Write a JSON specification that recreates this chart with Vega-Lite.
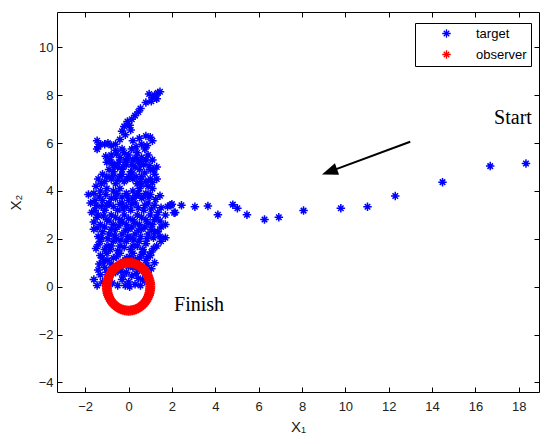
{
"$schema": "https://vega.github.io/schema/vega-lite/v6.json",
"width": 482, "height": 380,
"autosize": {"type": "none"},
"padding": {"left": 57, "top": 12, "right": 11, "bottom": 52},
"background": "white",
"config": {"view": {"stroke": "black", "strokeWidth": 1}},
"datasets": {
"tgt": [
{"x":18.33,"y":5.15},{"x":16.68,"y":5.04},{"x":14.48,"y":4.37},{"x":12.3,"y":3.79},{"x":11.02,"y":3.34},{"x":9.79,"y":3.28},{"x":8.07,"y":3.18},{"x":6.93,"y":2.9},{"x":6.27,"y":2.81},{"x":5.46,"y":3.01},{"x":5.02,"y":3.28},{"x":4.81,"y":3.43},{"x":4.12,"y":3.01},{"x":3.66,"y":3.37},{"x":3.06,"y":3.34},{"x":2.44,"y":3.4},{"x":2.1,"y":3.09},{"x":1.95,"y":3.4},
{"x":1.35,"y":8.1},{"x":1.45,"y":8.15},{"x":1.2,"y":8.0},{"x":0.95,"y":8.05},{"x":1.3,"y":7.85},{"x":1.05,"y":7.75},{"x":0.8,"y":7.7},{"x":1.1,"y":7.9},
{"x":0.55,"y":7.45},{"x":0.45,"y":7.3},{"x":0.3,"y":7.15},{"x":0.15,"y":7.0},{"x":-0.05,"y":6.9},{"x":0.05,"y":6.75},{"x":-0.2,"y":6.7},{"x":-0.3,"y":6.5},{"x":-0.15,"y":6.35},{"x":0.1,"y":6.55},
{"x":-1.45,"y":6.1},{"x":-1.4,"y":5.85},{"x":-1.3,"y":5.95},{"x":-1.1,"y":5.95},{"x":-0.95,"y":6.0},{"x":-0.8,"y":5.9},{"x":-1.45,"y":5.75},{"x":-0.6,"y":5.95},
{"x":1.0,"y":6.25},{"x":1.1,"y":6.1},{"x":0.85,"y":5.9},{"x":0.6,"y":5.95},{"x":0.35,"y":5.85},{"x":0.8,"y":6.3},{"x":0.2,"y":6.1},{"x":-0.4,"y":6.15},{"x":0.5,"y":6.2},
{"x":-1.0,"y":5.2},{"x":-0.8,"y":5.5},{"x":-0.6,"y":5.7},{"x":-0.4,"y":5.4},{"x":-0.2,"y":5.6},{"x":0.0,"y":5.5},{"x":0.2,"y":5.3},{"x":0.4,"y":5.6},{"x":0.6,"y":5.4},{"x":0.9,"y":5.5},{"x":1.1,"y":5.3},{"x":1.3,"y":5.0},{"x":1.0,"y":4.9},{"x":0.7,"y":5.1},{"x":0.5,"y":4.9},{"x":0.3,"y":5.0},{"x":0.1,"y":4.8},{"x":-0.1,"y":5.1},{"x":-0.3,"y":4.9},{"x":-0.5,"y":5.0},{"x":-0.7,"y":4.8},{"x":-0.9,"y":4.9},{"x":-1.2,"y":4.7},{"x":-1.4,"y":4.5},{"x":-1.1,"y":4.4},{"x":-0.8,"y":4.5},{"x":-0.6,"y":4.3},{"x":-0.4,"y":4.6},{"x":-0.2,"y":4.4},{"x":0.0,"y":4.6},{"x":0.2,"y":4.5},{"x":0.4,"y":4.3},{"x":0.6,"y":4.6},{"x":0.8,"y":4.4},{"x":1.0,"y":4.5},{"x":1.2,"y":4.7},{"x":0.9,"y":4.2},{"x":-1.5,"y":4.2},{"x":-0.3,"y":5.75},{"x":0.15,"y":5.75},{"x":-0.55,"y":5.55},{"x":0.75,"y":5.75},{"x":-0.15,"y":5.25},{"x":0.45,"y":5.25},{"x":-0.75,"y":5.15},
{"x":-1.85,"y":3.85},{"x":-1.6,"y":3.9},{"x":-1.3,"y":4.0},{"x":-1.0,"y":4.1},{"x":-0.7,"y":4.0},{"x":-0.4,"y":4.1},{"x":-0.1,"y":3.9},{"x":0.2,"y":4.0},{"x":0.5,"y":4.1},{"x":0.8,"y":3.9},{"x":1.1,"y":4.1},{"x":1.45,"y":3.8},{"x":0.6,"y":4.25},{"x":-1.7,"y":3.1},{"x":-1.5,"y":3.4},{"x":-1.2,"y":3.6},{"x":-0.9,"y":3.5},{"x":-0.6,"y":3.7},{"x":-0.3,"y":3.5},{"x":0.0,"y":3.6},{"x":0.3,"y":3.5},{"x":0.6,"y":3.7},{"x":0.9,"y":3.5},{"x":1.2,"y":3.4},{"x":1.5,"y":3.3},{"x":1.7,"y":3.0},{"x":2.0,"y":3.45},{"x":2.15,"y":3.1},{"x":1.8,"y":3.35},{"x":-1.4,"y":3.0},{"x":-1.1,"y":3.2},{"x":-0.8,"y":3.0},{"x":-0.5,"y":3.2},{"x":-0.2,"y":3.0},{"x":0.1,"y":3.2},{"x":0.4,"y":3.0},{"x":0.7,"y":3.2},{"x":1.0,"y":3.0},{"x":1.3,"y":2.9},{"x":-1.6,"y":2.7},{"x":-1.3,"y":2.6},{"x":-1.0,"y":2.8},{"x":-0.7,"y":2.6},{"x":-0.4,"y":2.8},{"x":-0.1,"y":2.6},{"x":0.2,"y":2.8},{"x":0.5,"y":2.6},{"x":0.8,"y":2.8},{"x":1.1,"y":2.6},{"x":1.7,"y":2.6},{"x":1.45,"y":2.75},{"x":-1.75,"y":3.5},{"x":0.35,"y":3.8},{"x":-0.25,"y":3.25},{"x":0.95,"y":3.75},
{"x":-1.6,"y":2.4},{"x":-1.4,"y":2.1},{"x":-1.2,"y":2.3},{"x":-0.9,"y":2.2},{"x":-0.6,"y":2.4},{"x":-0.3,"y":2.2},{"x":0.0,"y":2.4},{"x":0.3,"y":2.2},{"x":0.6,"y":2.4},{"x":0.9,"y":2.2},{"x":1.2,"y":2.3},{"x":1.45,"y":2.1},{"x":1.7,"y":2.05},{"x":1.3,"y":1.7},{"x":1.05,"y":1.45},{"x":0.8,"y":1.8},{"x":0.5,"y":1.9},{"x":0.2,"y":1.7},{"x":-0.1,"y":1.9},{"x":-0.4,"y":1.7},{"x":-0.7,"y":1.9},{"x":-1.0,"y":1.7},{"x":-1.3,"y":1.9},{"x":-1.5,"y":1.6},{"x":-1.3,"y":1.3},{"x":-1.0,"y":1.4},{"x":-0.7,"y":1.2},{"x":-0.4,"y":1.4},{"x":-0.1,"y":1.2},{"x":0.2,"y":1.4},{"x":0.5,"y":1.2},{"x":0.8,"y":1.1},{"x":1.0,"y":1.3},{"x":-0.55,"y":2.0},{"x":0.65,"y":1.55},{"x":-0.85,"y":1.55},{"x":0.1,"y":2.05},{"x":-1.15,"y":1.05},{"x":1.2,"y":1.0},{"x":0.35,"y":1.0},
{"x":-1.6,"y":0.3},{"x":-1.45,"y":0.05},{"x":-1.3,"y":0.5},{"x":-1.1,"y":0.8},{"x":-0.9,"y":0.4},{"x":-0.75,"y":0.15},{"x":-0.6,"y":0.6},{"x":-0.4,"y":0.85},{"x":-0.3,"y":0.3},{"x":-0.15,"y":0.05},{"x":0.0,"y":0.2},{"x":0.15,"y":0.45},{"x":0.3,"y":0.1},{"x":0.45,"y":0.35},{"x":0.6,"y":0.7},{"x":0.75,"y":0.25},{"x":0.9,"y":0.5},{"x":1.0,"y":0.15},{"x":0.55,"y":0.05},{"x":-0.5,"y":0.05},{"x":-1.2,"y":0.2},{"x":-1.4,"y":0.7},{"x":0.2,"y":0.8},{"x":-0.1,"y":0.6},{"x":0.85,"y":0.9},{"x":-0.8,"y":0.95},{"x":0.35,"y":0.55},{"x":-0.25,"y":0.45},{"x":0.05,"y":0.0},{"x":0.65,"y":0.3},
{"x":-1.05,"y":5.45},{"x":-0.85,"y":5.3},{"x":-0.65,"y":5.05},{"x":-0.45,"y":5.2},{"x":-0.25,"y":5.0},{"x":-0.05,"y":5.35},{"x":0.15,"y":5.1},{"x":0.35,"y":5.4},{"x":0.55,"y":5.15},{"x":0.8,"y":5.3},{"x":0.95,"y":5.05},{"x":1.15,"y":4.9},
{"x":-1.25,"y":4.3},{"x":-1.0,"y":4.6},{"x":-0.7,"y":4.65},{"x":-0.5,"y":4.45},{"x":-0.3,"y":4.7},{"x":-0.05,"y":4.5},{"x":0.15,"y":4.75},{"x":0.35,"y":4.6},{"x":0.55,"y":4.4},{"x":0.75,"y":4.75},{"x":1.1,"y":4.35},{"x":1.3,"y":4.5},
{"x":-1.35,"y":3.75},{"x":-1.05,"y":3.85},{"x":-0.8,"y":3.7},{"x":-0.55,"y":3.9},{"x":-0.3,"y":3.75},{"x":-0.05,"y":3.8},{"x":0.2,"y":3.7},{"x":0.45,"y":3.9},{"x":0.7,"y":3.75},{"x":1.0,"y":3.85},{"x":1.25,"y":3.65},{"x":-1.55,"y":3.6},
{"x":-1.25,"y":3.35},{"x":-1.0,"y":3.4},{"x":-0.7,"y":3.35},{"x":-0.4,"y":3.45},{"x":-0.1,"y":3.35},{"x":0.15,"y":3.45},{"x":0.45,"y":3.3},{"x":0.75,"y":3.4},{"x":1.05,"y":3.25},{"x":1.35,"y":3.1},{"x":-1.55,"y":3.2},
{"x":-1.45,"y":2.9},{"x":-1.15,"y":2.95},{"x":-0.9,"y":2.75},{"x":-0.6,"y":2.9},{"x":-0.3,"y":2.7},{"x":0.0,"y":2.85},{"x":0.3,"y":2.65},{"x":0.6,"y":2.9},{"x":0.9,"y":2.65},{"x":1.2,"y":2.8},{"x":1.5,"y":2.5},
{"x":-1.45,"y":2.45},{"x":-1.1,"y":2.5},{"x":-0.8,"y":2.4},{"x":-0.45,"y":2.55},{"x":-0.15,"y":2.35},{"x":0.15,"y":2.5},{"x":0.45,"y":2.35},{"x":0.75,"y":2.5},{"x":1.05,"y":2.4},{"x":1.35,"y":2.3},
{"x":-1.25,"y":2.05},{"x":-0.95,"y":2.0},{"x":-0.65,"y":2.15},{"x":-0.35,"y":1.95},{"x":-0.05,"y":2.1},{"x":0.25,"y":1.95},{"x":0.55,"y":2.1},{"x":0.85,"y":2.0},{"x":1.15,"y":2.05},{"x":1.5,"y":1.9},
{"x":-1.4,"y":1.75},{"x":-1.1,"y":1.55},{"x":-0.8,"y":1.7},{"x":-0.5,"y":1.5},{"x":-0.2,"y":1.65},{"x":0.1,"y":1.55},{"x":0.4,"y":1.7},{"x":0.7,"y":1.45},{"x":1.15,"y":1.6},
{"x":-1.2,"y":1.2},{"x":-0.95,"y":1.1},{"x":-0.55,"y":1.25},{"x":-0.25,"y":1.05},{"x":0.05,"y":1.25},{"x":0.3,"y":1.15},{"x":0.6,"y":1.35},{"x":0.9,"y":1.25},
{"x":-1.35,"y":0.95},{"x":-1.0,"y":0.6},{"x":-0.7,"y":0.8},{"x":-0.35,"y":0.65},{"x":0.0,"y":0.85},{"x":0.4,"y":0.8},{"x":0.75,"y":0.6},{"x":1.05,"y":0.75}
],
"obs": [
{"x":1,"y":0},{"x":0.9962,"y":0.0872},{"x":0.9848,"y":0.1736},{"x":0.9659,"y":0.2588},{"x":0.9397,"y":0.342},{"x":0.9063,"y":0.4226},{"x":0.866,"y":0.5},{"x":0.8192,"y":0.5736},{"x":0.766,"y":0.6428},{"x":0.7071,"y":0.7071},{"x":0.6428,"y":0.766},{"x":0.5736,"y":0.8192},{"x":0.5,"y":0.866},{"x":0.4226,"y":0.9063},{"x":0.342,"y":0.9397},{"x":0.2588,"y":0.9659},{"x":0.1736,"y":0.9848},{"x":0.0872,"y":0.9962},
{"x":0,"y":1},{"x":-0.0872,"y":0.9962},{"x":-0.1736,"y":0.9848},{"x":-0.2588,"y":0.9659},{"x":-0.342,"y":0.9397},{"x":-0.4226,"y":0.9063},{"x":-0.5,"y":0.866},{"x":-0.5736,"y":0.8192},{"x":-0.6428,"y":0.766},{"x":-0.7071,"y":0.7071},{"x":-0.766,"y":0.6428},{"x":-0.8192,"y":0.5736},{"x":-0.866,"y":0.5},{"x":-0.9063,"y":0.4226},{"x":-0.9397,"y":0.342},{"x":-0.9659,"y":0.2588},{"x":-0.9848,"y":0.1736},{"x":-0.9962,"y":0.0872},
{"x":-1,"y":0},{"x":-0.9962,"y":-0.0872},{"x":-0.9848,"y":-0.1736},{"x":-0.9659,"y":-0.2588},{"x":-0.9397,"y":-0.342},{"x":-0.9063,"y":-0.4226},{"x":-0.866,"y":-0.5},{"x":-0.8192,"y":-0.5736},{"x":-0.766,"y":-0.6428},{"x":-0.7071,"y":-0.7071},{"x":-0.6428,"y":-0.766},{"x":-0.5736,"y":-0.8192},{"x":-0.5,"y":-0.866},{"x":-0.4226,"y":-0.9063},{"x":-0.342,"y":-0.9397},{"x":-0.2588,"y":-0.9659},{"x":-0.1736,"y":-0.9848},{"x":-0.0872,"y":-0.9962},
{"x":0,"y":-1},{"x":0.0872,"y":-0.9962},{"x":0.1736,"y":-0.9848},{"x":0.2588,"y":-0.9659},{"x":0.342,"y":-0.9397},{"x":0.4226,"y":-0.9063},{"x":0.5,"y":-0.866},{"x":0.5736,"y":-0.8192},{"x":0.6428,"y":-0.766},{"x":0.7071,"y":-0.7071},{"x":0.766,"y":-0.6428},{"x":0.8192,"y":-0.5736},{"x":0.866,"y":-0.5},{"x":0.9063,"y":-0.4226},{"x":0.9397,"y":-0.342},{"x":0.9659,"y":-0.2588},{"x":0.9848,"y":-0.1736},{"x":0.9962,"y":-0.0872}
],
"arrow": [{"x":12.99,"y":6.06,"xe":9.42,"ye":4.86}],
"head": [{"x":8.92,"y":4.69}],
"ann": [{"x":16.86,"y":6.82,"label":"Start"},{"x":2.1,"y":-1.02,"label":"Finish"}]
},
"resolve": {"axis": {"x": "independent", "y": "independent"}},
"layer": [
{
"layer": [
{"data": {"name": "tgt"},
 "transform": [{"calculate": "'target'", "as": "s"}],
 "mark": {"type": "point", "shape": "M-1,0L1,0M0,-1L0,1M-0.65,-0.65L0.65,0.65M-0.65,0.65L0.65,-0.65", "filled": false, "strokeWidth": 1.5, "size": 72, "opacity": 1},
 "encoding": {
  "x": {"field": "x", "type": "quantitative", "scale": {"domain": [-3.3, 18.93], "nice": false, "zero": false},
        "axis": {"values": [-2,0,2,4,6,8,10,12,14,16,18], "title": "X₁", "offset": -5, "domain": false, "grid": false, "tickSize": 5, "tickColor": "black", "labelFont": "Liberation Sans", "labelFontSize": 13, "labelColor": "#222", "labelPadding": 8, "titleFont": "Liberation Sans", "titleFontSize": 15, "titleFontWeight": "normal", "titleColor": "#222", "titlePadding": 6}},
  "y": {"field": "y", "type": "quantitative", "scale": {"domain": [-4.4, 11.48], "nice": false, "zero": false},
        "axis": {"values": [-4,-2,0,2,4,6,8,10], "title": "X₂", "offset": -5, "domain": false, "grid": false, "tickSize": 5, "tickColor": "black", "labelFont": "Liberation Sans", "labelFontSize": 13, "labelColor": "#222", "labelPadding": 4, "titleFont": "Liberation Sans", "titleFontSize": 15, "titleFontWeight": "normal", "titleColor": "#222", "titlePadding": 15}},
  "color": {"field": "s", "type": "nominal", "scale": {"domain": ["target", "observer"], "range": ["#0000ff", "#ff0000"]},
        "legend": {"orient": "none", "legendX": 358, "legendY": 11, "title": null, "strokeColor": "black", "fillColor": "white", "padding": 4, "rowPadding": 6, "symbolType": "M-1,0L1,0M0,-1L0,1M-0.65,-0.65L0.65,0.65M-0.65,0.65L0.65,-0.65", "symbolSize": 72, "symbolStrokeWidth": 1.3, "symbolFillColor": "transparent", "symbolOffset": 21, "labelOffset": 23, "labelFont": "Liberation Sans", "labelFontSize": 13, "labelColor": "black"}}
 }},
{"data": {"name": "obs"},
 "transform": [{"calculate": "'observer'", "as": "s"}],
 "mark": {"type": "point", "shape": "M-1,0L1,0M0,-1L0,1M-0.65,-0.65L0.65,0.65M-0.65,0.65L0.65,-0.65", "filled": false, "strokeWidth": 2, "size": 100, "opacity": 1},
 "encoding": {
  "x": {"field": "x", "type": "quantitative"},
  "y": {"field": "y", "type": "quantitative"},
  "color": {"field": "s", "type": "nominal"}
 }},
{"data": {"name": "arrow"},
 "mark": {"type": "rule", "strokeWidth": 2, "color": "black"},
 "encoding": {
  "x": {"field": "x", "type": "quantitative"},
  "y": {"field": "y", "type": "quantitative"},
  "x2": {"field": "xe"},
  "y2": {"field": "ye"}
 }},
{"data": {"name": "head"},
 "mark": {"type": "point", "shape": "M0,0L0.6,1.6L-0.6,1.6Z", "filled": true, "color": "black", "size": 400, "angle": 250, "opacity": 1, "strokeWidth": 0},
 "encoding": {
  "x": {"field": "x", "type": "quantitative"},
  "y": {"field": "y", "type": "quantitative"}
 }},
{"data": {"name": "ann"},
 "mark": {"type": "text", "font": "Liberation Serif", "fontSize": 20, "align": "left", "baseline": "alphabetic", "color": "black"},
 "encoding": {
  "x": {"field": "x", "type": "quantitative"},
  "y": {"field": "y", "type": "quantitative"},
  "text": {"field": "label"}
 }}
]
},
{"data": {"name": "head"},
 "mark": {"type": "point", "opacity": 0},
 "encoding": {
  "x": {"field": "x", "type": "quantitative", "axis": {"orient": "top", "offset": -5, "values": [-2,0,2,4,6,8,10,12,14,16,18], "labels": false, "title": null, "domain": false, "grid": false, "tickSize": 5, "tickColor": "black"}},
  "y": {"field": "y", "type": "quantitative", "axis": {"orient": "right", "offset": -5, "values": [-4,-2,0,2,4,6,8,10], "labels": false, "title": null, "domain": false, "grid": false, "tickSize": 5, "tickColor": "black"}}
 }}
]
}
